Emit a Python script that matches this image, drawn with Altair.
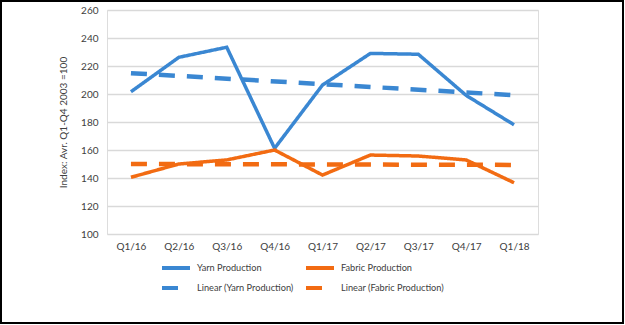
import json
import altair as alt
import pandas as pd

quarters = ["Q1/16", "Q2/16", "Q3/16", "Q4/16", "Q1/17", "Q2/17", "Q3/17", "Q4/17", "Q1/18"]
yarn = [201.6, 226.2, 233.4, 161.2, 206.4, 229.0, 228.4, 199.0, 178.0]
fabric = [140.5, 150.0, 152.9, 160.0, 142.1, 156.4, 155.7, 152.9, 136.6]

series_names = ["Yarn Production", "Fabric Production",
                "Linear (Yarn Production)", "Linear (Fabric Production)"]
BLUE = "#3a87d2"
ORANGE = "#f26b12"
FONT = "Lato"
TXT = "#404040"

rows = []
for i, q in enumerate(quarters):
    rows.append({"idx": i, "quarter": q, "series": "Yarn Production", "value": yarn[i]})
    rows.append({"idx": i, "quarter": q, "series": "Fabric Production", "value": fabric[i]})
df = pd.DataFrame(rows)

label_expr = json.dumps(quarters) + "[datum.value]"

x = alt.X("idx:Q", title=None,
          scale=alt.Scale(domain=[-0.5, len(quarters) - 0.5], nice=False, zero=False),
          axis=alt.Axis(values=list(range(len(quarters))), labelExpr=label_expr,
                        grid=False, domain=False, ticks=False, labelPadding=7,
                        labelFontSize=10, labelColor=TXT, labelFont=FONT))
y = alt.Y("value:Q", title="Index: Avr. Q1-Q4 2003 =100",
          scale=alt.Scale(domain=[100, 260], nice=False, zero=False),
          axis=alt.Axis(values=list(range(100, 261, 20)), grid=True, gridColor="#d9d9d9",
                        gridWidth=1.5, domain=False, ticks=False, labelPadding=9,
                        labelFontSize=10, labelColor=TXT, labelFont=FONT,
                        titleFontSize=10, titleColor=TXT, titleFont=FONT,
                        titleFontWeight="normal", titlePadding=12))

def make_legend():
    return alt.Legend(orient="none", legendX=57, legendY=246, columns=2,
                      direction="horizontal",
                      symbolType="M-1.4,0H1.4", symbolSize=400, symbolStrokeWidth=4,
                      labelFontSize=9.2, labelColor=TXT, labelFont=FONT,
                      labelOffset=9, columnPadding=4, rowPadding=-8,
                      title=None)

color = alt.Color("series:N", title=None,
                  scale=alt.Scale(domain=series_names, range=[BLUE, ORANGE, BLUE, ORANGE]),
                  legend=make_legend())
dash = alt.StrokeDash("series:N", title=None,
                      scale=alt.Scale(domain=series_names,
                                      range=[[1, 0], [1, 0], [16, 12], [16, 12]]),
                      legend=make_legend())

base = alt.Chart(df)

trend = base.transform_regression(
    "idx", "value", groupby=["series"]
).transform_calculate(
    series="'Linear (' + datum.series + ')'"
).mark_line(strokeWidth=4.5, strokeCap="butt").encode(x=x, y=y, color=color, strokeDash=dash)

lines = base.mark_line(strokeWidth=3.5, strokeJoin="miter").encode(
    x=x, y=y, color=color, strokeDash=dash, order="idx:Q")

border = alt.Chart(pd.DataFrame({"a": [0]})).mark_rect(
    fill=None, stroke="black", strokeWidth=2
).encode(x=alt.value(-106), x2=alt.value(516), y=alt.value(-9), y2=alt.value(313))

chart = alt.layer(trend, lines, border).properties(
    width=431, height=224,
    autosize=alt.AutoSizeParams(type="none"),
    padding={"left": 107, "top": 10, "right": 87, "bottom": 91},
).configure_view(stroke=None).configure(background="white")

chart.save("out.html", embed_options={"renderer": "svg", "actions": False})
